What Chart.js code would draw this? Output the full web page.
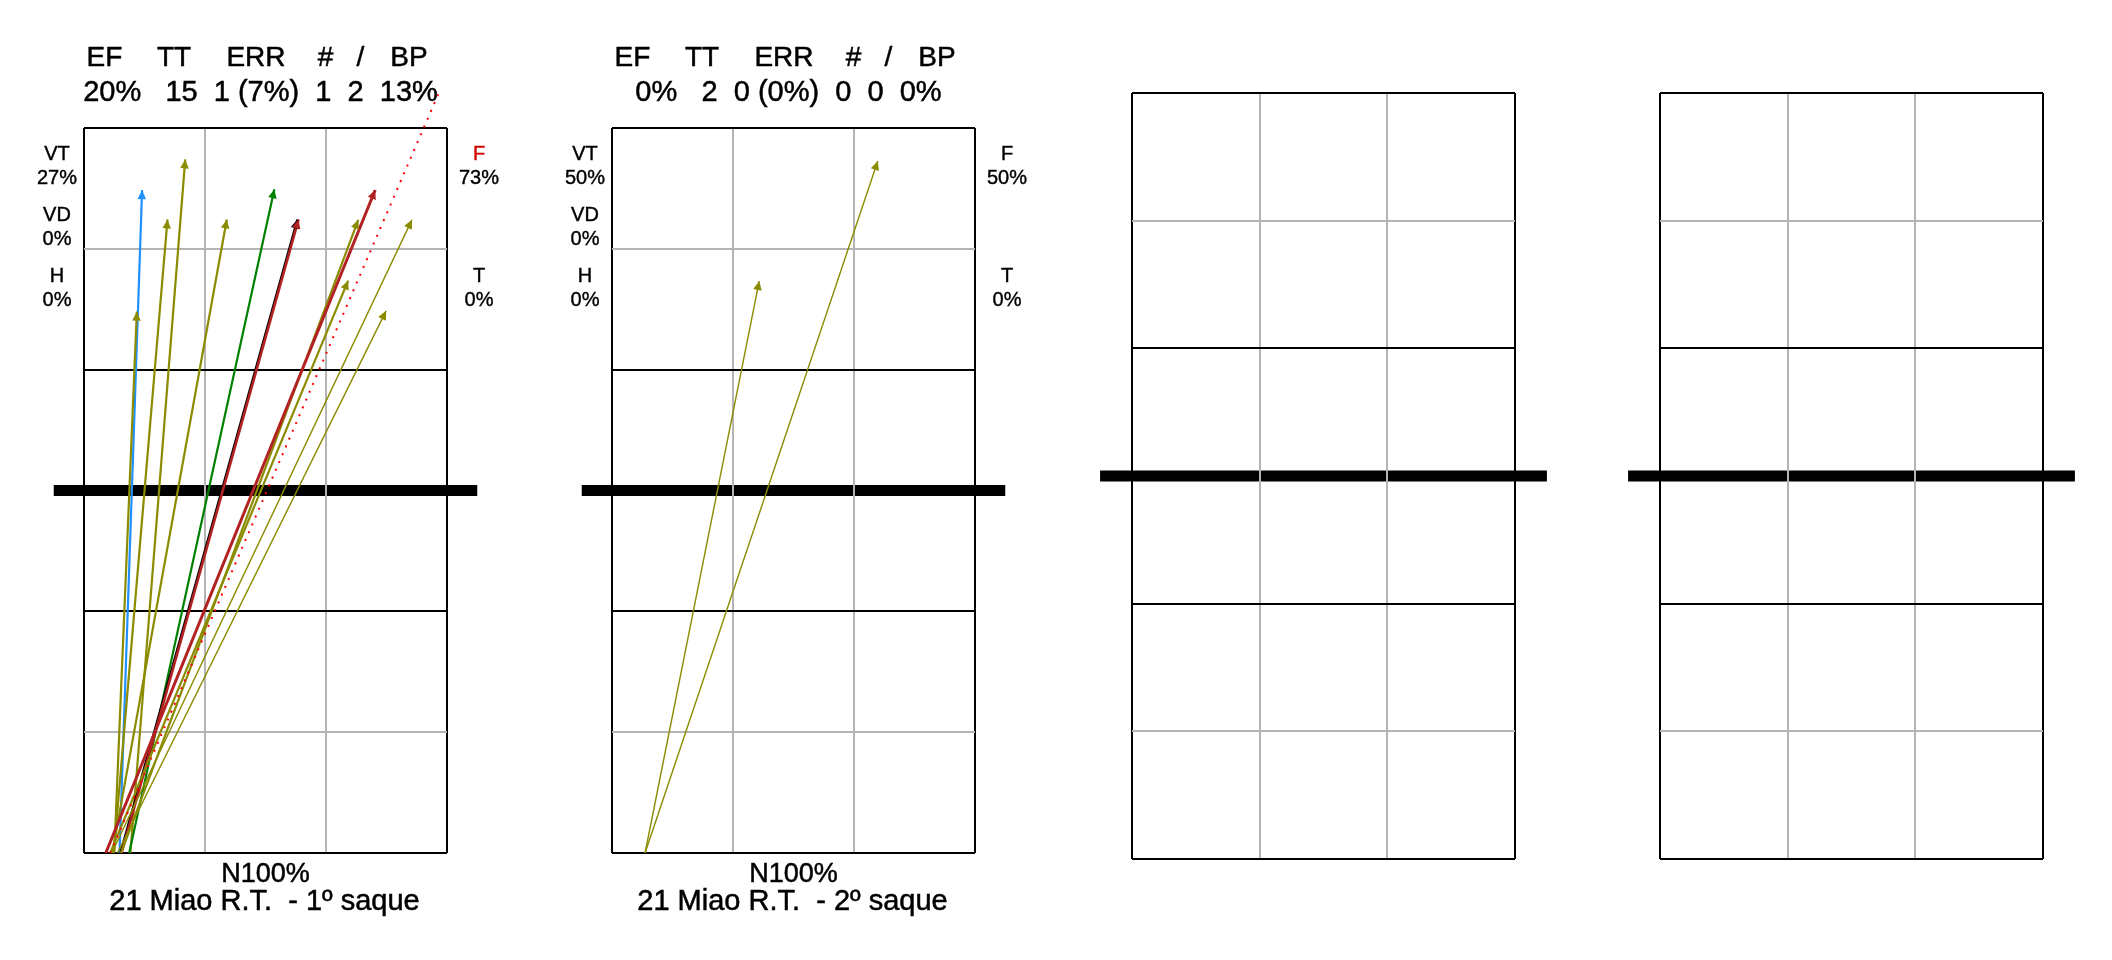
<!DOCTYPE html>
<html>
<head>
<meta charset="utf-8">
<style>
  html, body { margin: 0; padding: 0; background: #fff; }
  #wrap { position: relative; width: 2112px; height: 960px; overflow: hidden; background: #fff; }
  #wrap canvas { position: absolute; top: 0; }
</style>
</head>
<body>
<div id="wrap">
  <canvas id="c1" width="540" height="960" style="left:0px"></canvas>
  <canvas id="c2" width="540" height="960" style="left:540px"></canvas>
  <canvas id="c3" width="520" height="960" style="left:1080px"></canvas>
  <canvas id="c4" width="512" height="960" style="left:1600px"></canvas>
</div>
<script src="https://cdn.jsdelivr.net/npm/chart.js"></script>
<script>
// ---- data (court in metres: x 0..9 across, y 0..18 from server's baseline) ----
const headerLabels = ['EF', 'TT', 'ERR', '#', '/', 'BP'];
const leftLabels = ['VT', 'VD', 'H'];
const rightLabels = ['F', 'T'];

// 1º saque
const serve1StartX = [0.88, 0.75, 0.74, 1.15, 0.70, 1.12, 0.90, 0.93, 0.92, 0.65, 0.69, 0.83, 0.54, 0.65];
const serve1EndX   = [1.44, 1.31, 2.07, 2.51, 3.54, 4.72, 5.29, 5.32, 6.80, 6.55, 8.13, 7.49, 7.22, 8.81];
const serve1EndY   = [16.46, 13.44, 15.73, 17.22, 15.73, 16.48, 15.73, 15.73, 15.72, 14.21, 15.72, 13.46, 16.46, 18.90];
const serve1Kind   = ['blue', 'olive', 'olive', 'olive', 'olive', 'green', 'black', 'darkred', 'olive', 'olive', 'oliveThin', 'oliveThin', 'red', 'error'];
const serve1Values = '20%   15  1 (7%)  1  2  13%';
const serve1LeftPct = ['27%', '0%', '0%'];
const serve1RightPct = ['73%', '0%'];
const serve1Title = ['N100%', '21 Miao R.T.  - 1º saque'];

// 2º saque
const serve2StartX = [0.82, 0.82];
const serve2EndX   = [3.65, 6.59];
const serve2EndY   = [14.20, 17.18];
const serve2Kind   = ['oliveThin', 'oliveThin'];
const serve2Values = '0%   2  0 (0%)  0  0  0%';
const serve2LeftPct = ['50%', '0%', '0%'];
const serve2RightPct = ['50%', '0%'];
const serve2Title = ['N100%', '21 Miao R.T.  - 2º saque'];

// ---- styles ----
const kindStyle = {
  blue:      { color: '#1e90ff', width: 2.2 },
  olive:     { color: '#8b8b00', width: 2.2 },
  oliveThin: { color: '#8b8b00', width: 1.4 },
  green:     { color: '#008000', width: 2.2 },
  black:     { color: '#000000', width: 2.2 },
  darkred:   { color: '#b22222', width: 2.6 },
  red:       { color: '#b22222', width: 3 },
  error:     { color: '#ff0000', width: 2, dash: [2, 6.5], noArrow: true }
};
const FONT = "'Liberation Sans', Arial, sans-serif";
const headerOffsets = [-161, -91.5, -9.5, 60, 95, 143.5];
const labelRows = [26, 50, 87, 111, 148, 172];

function buildDatasets(startX, endX, endY, kind) {
  const n = startX.length;
  return startX.map((sx, i) => {
    const st = kindStyle[kind[i]];
    return {
      data: [{ x: sx, y: 0 }, { x: endX[i], y: endY[i] }],
      showLine: true,
      borderColor: st.color,
      backgroundColor: st.color,
      borderWidth: st.width,
      borderDash: st.dash || [],
      pointRadius: 0,
      pointHoverRadius: 0,
      clip: st.noArrow ? false : 0,
      order: n - i,
      arrow: !st.noArrow
    };
  });
}

// heavier text, close to the reference's hinted Arial
function text(ctx, t, x, y) {
  ctx.fillText(t, x, y);
  ctx.strokeText(t, x, y);
}

function makeCourtPlugin(info) {
  return {
    id: 'court',
    beforeDraw(chart) {
      const { ctx, scales: { x, y } } = chart;
      const x0 = x.getPixelForValue(-0.75), x1 = x.getPixelForValue(9.75);
      const yn = y.getPixelForValue(9);
      ctx.save();
      ctx.fillStyle = '#000';
      ctx.fillRect(x0, yn - 5.5, x1 - x0, 11);
      ctx.restore();
    },
    afterDatasetsDraw(chart) {
      const ctx = chart.ctx;
      chart.data.datasets.forEach((ds, i) => {
        if (!ds.arrow) return;
        const pts = chart.getDatasetMeta(i).data;
        const p0 = pts[0], p1 = pts[pts.length - 1];
        const dx = p1.x - p0.x, dy = p1.y - p0.y;
        const len = Math.hypot(dx, dy);
        const ux = dx / len, uy = dy / len;
        const L = 9, W = 4.3;
        const bx = p1.x - ux * L, by = p1.y - uy * L;
        ctx.save();
        ctx.fillStyle = ds.borderColor;
        ctx.beginPath();
        ctx.moveTo(p1.x, p1.y);
        ctx.lineTo(bx - uy * W, by + ux * W);
        ctx.lineTo(bx + uy * W, by - ux * W);
        ctx.closePath();
        ctx.fill();
        ctx.restore();
      });
    },
    afterDraw(chart) {
      if (!info.values) return;
      const { ctx, chartArea: a } = chart;
      const cx = (a.left + a.right) / 2;
      ctx.save();
      ctx.fillStyle = '#000';
      ctx.strokeStyle = '#000';
      ctx.lineWidth = 0.5;
      ctx.textAlign = 'center';
      ctx.textBaseline = 'middle';
      ctx.font = '28px ' + FONT;
      headerLabels.forEach((t, i) => text(ctx, t, cx + headerOffsets[i], a.top - 70));
      ctx.font = '29px ' + FONT;
      text(ctx, info.values, cx - 5, a.top - 35);

      const pcts = info.leftPct.concat(info.rightPct).map(p => parseFloat(p));
      const maxP = Math.max(...pcts);
      const unique = pcts.filter(p => p === maxP).length === 1;
      ctx.font = '20px ' + FONT;
      ctx.lineWidth = 0.4;
      const put = (t, x, y, hi) => {
        ctx.fillStyle = ctx.strokeStyle = hi ? '#d00000' : '#000';
        text(ctx, t, x, y);
      };
      leftLabels.forEach((t, i) => {
        put(t, a.left - 27, a.top + labelRows[i * 2], unique && parseFloat(info.leftPct[i]) === maxP);
        put(info.leftPct[i], a.left - 27, a.top + labelRows[i * 2 + 1], false);
      });
      rightLabels.forEach((t, i) => {
        const r = i === 0 ? 0 : 2;
        put(t, a.right + 32, a.top + labelRows[r * 2], unique && parseFloat(info.rightPct[i]) === maxP);
        put(info.rightPct[i], a.right + 32, a.top + labelRows[r * 2 + 1], false);
      });

      ctx.fillStyle = ctx.strokeStyle = '#000';
      ctx.lineWidth = 0.5;
      ctx.font = '27px ' + FONT;
      text(ctx, info.title[0], cx, a.bottom + 22);
      ctx.font = '29px ' + FONT;
      text(ctx, info.title[1], cx - 1, a.bottom + 49);
      ctx.restore();
    }
  };
}

function gridColor(black, none) {
  return (c) => {
    const v = c.tick ? c.tick.value : null;
    if (none.includes(v)) return 'rgba(0,0,0,0)';
    return black.includes(v) ? '#000000' : '#b4b4b4';
  };
}

function drawCourt(id, padding, datasets, info) {
  new Chart(document.getElementById(id), {
    type: 'scatter',
    data: { datasets },
    options: {
      responsive: false,
      animation: false,
      events: [],
      layout: { padding },
      plugins: { legend: { display: false }, tooltip: { enabled: false } },
      scales: {
        x: {
          type: 'linear', min: 0, max: 9,
          ticks: { display: false, stepSize: 3 },
          border: { display: false },
          grid: { drawTicks: false, lineWidth: 2, color: gridColor([0, 9], []) }
        },
        y: {
          type: 'linear', min: 0, max: 18,
          ticks: { display: false, stepSize: 3 },
          border: { display: false },
          grid: { drawTicks: false, lineWidth: 2, color: gridColor([0, 6, 12, 18], [9]) }
        }
      }
    },
    plugins: [makeCourtPlugin(info)]
  });
}

drawCourt('c1', { left: 84, right: 93, top: 128, bottom: 107 },
  buildDatasets(serve1StartX, serve1EndX, serve1EndY, serve1Kind),
  { values: serve1Values, leftPct: serve1LeftPct, rightPct: serve1RightPct, title: serve1Title });
drawCourt('c2', { left: 72, right: 105, top: 128, bottom: 107 },
  buildDatasets(serve2StartX, serve2EndX, serve2EndY, serve2Kind),
  { values: serve2Values, leftPct: serve2LeftPct, rightPct: serve2RightPct, title: serve2Title });
drawCourt('c3', { left: 52, right: 85, top: 93, bottom: 101 }, [], {});
drawCourt('c4', { left: 60, right: 69, top: 93, bottom: 101 }, [], {});
</script>
</body>
</html>
